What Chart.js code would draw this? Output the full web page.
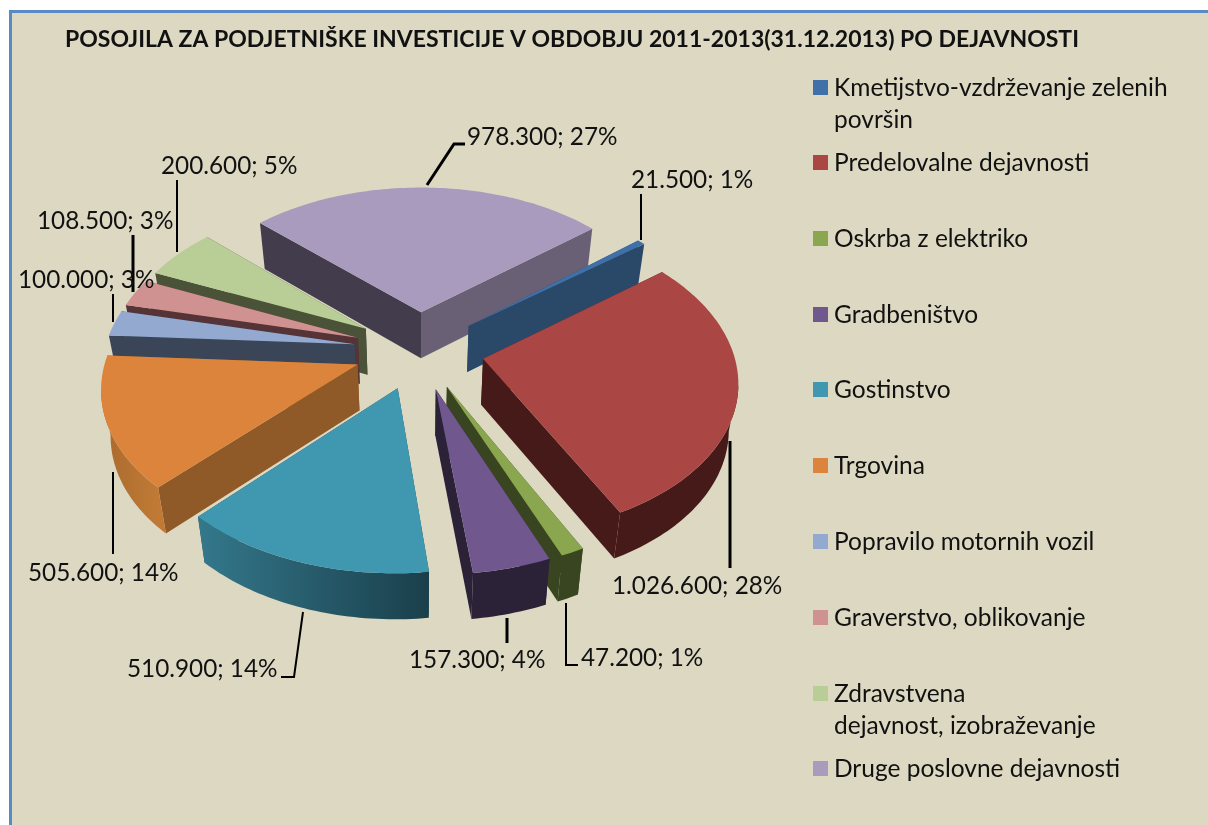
<!DOCTYPE html>
<html>
<head>
<meta charset="utf-8">
<script src="https://cdn.jsdelivr.net/npm/chart.js@4"></script>
<style>
html,body{margin:0;padding:0;background:#fff;overflow:hidden}
#frame{position:absolute;left:9px;top:10px;width:1199px;height:815px;box-sizing:border-box;background:#dcd8c2;border-left:3px solid #5a8ac6;border-top:3px solid #5a8ac6}
#myChart{position:absolute;left:0;top:0}
</style>
</head>
<body>
<div id="frame"></div>
<canvas id="myChart" width="1208" height="825"></canvas>
<script>
// data
let chartTitle = 'POSOJILA ZA PODJETNIŠKE INVESTICIJE V OBDOBJU 2011-2013(31.12.2013) PO DEJAVNOSTI'
let categories = ['Kmetijstvo-vzdrževanje zelenih površin','Predelovalne dejavnosti','Oskrba z elektriko','Gradbeništvo','Gostinstvo','Trgovina','Popravilo motornih vozil','Graverstvo, oblikovanje','Zdravstvena dejavnost, izobraževanje','Druge poslovne dejavnosti'];
let values = [21500,1026600,47200,157300,510900,505600,100000,108500,200600,978300];
let legendLines = [['Kmetijstvo-vzdrževanje zelenih','površin'],['Predelovalne dejavnosti'],['Oskrba z elektriko'],['Gradbeništvo'],['Gostinstvo'],['Trgovina'],['Popravilo motornih vozil'],['Graverstvo, oblikovanje'],['Zdravstvena','dejavnost, izobraževanje'],['Druge poslovne dejavnosti']];

// colours
let topColors = ['#4070a8','#aa4644','#8aa64e','#70588f','#4098b0','#dd843c','#93a9cf','#d09291','#b9cd96','#a99bbd'];
let startWall = ['#2a4868','#471a1a','#384520','#2c2238','#1f4a58','#8f5a28','#3a4558','#553336','#4a5238','#423c4c'];
let endWall = ['#2a4868','#471a1a','#384520','#2c2238','#1f4a58','#8f5a28','#3a4558','#553336','#4a5238','#6a6075'];
let rimLeft = ['#2a4868','#471a1a','#384520','#2c2238','#34788c','#a96a2e','#3a4558','#553336','#4a5238','#6a6075'];
let rimRight = ['#2a4868','#471a1a','#384520','#2c2238','#1a3f4a','#c07a35','#3a4558','#553336','#4a5238','#6a6075'];

// perspective of the pie plane
let view = {cx:419, cy:350, sx:250, sy:150, persp:0.13, depth:46, shrink:0.97};

// label text position [x, y] and leader line points
let labelPos = [[631,180],[612,586],[581,658],[409,660],[127,669],[28,573],[18,280],[37,221],[161,166],[467,137]];
let leaders = [
    {w:2, pts:[[641,194],[641,240]]},
    {w:3, pts:[[730,441],[730,568]]},
    {w:2, pts:[[566,603],[566,665],[578,665]]},
    {w:3, pts:[[507,618],[507,643]]},
    {w:2, pts:[[303,612],[294,677],[281,677]]},
    {w:2, pts:[[113,472],[113,554]]},
    {w:2, pts:[[113,294],[113,322]]},
    {w:3, pts:[[133,235],[133,292]]},
    {w:2, pts:[[177,180],[177,252]]},
    {w:3, pts:[[427,185],[454,144],[465,144]]}
];
let legendY = [87,162,238,314,389,465,541,617,693,768];

let fontName = 'Lato, "Noto Sans", sans-serif';

function project(u, v) {
    let p = 1 / (1 - view.persp * v);
    return [view.cx + view.sx * u * p, view.cy + view.sy * v * p];
}
function lower(pt) {
    return [view.cx + (pt[0] - view.cx) * view.shrink, pt[1] + view.depth];
}
function poly(ctx, pts, color) {
    ctx.beginPath();
    pts.forEach((p, i) => i ? ctx.lineTo(p[0], p[1]) : ctx.moveTo(p[0], p[1]));
    ctx.closePath();
    ctx.fillStyle = color;
    ctx.fill();
}

// draws the exploded slices from the library's arc elements, tilted and with height
let pie3d = {
    id: 'pie3d',
    beforeDatasetsDraw(chart) {
        let ctx = chart.ctx;
        let slices = chart.getDatasetMeta(0).data.map((arc, i) => {
            let R = arc.outerRadius;
            let mid = (arc.startAngle + arc.endAngle) / 2;
            let e = arc.options.offset / R;
            let ou = Math.cos(mid) * e, ov = Math.sin(mid) * e;
            let steps = Math.max(2, Math.ceil((arc.endAngle - arc.startAngle) / 0.02));
            let rim = [];
            for (let s = 0; s <= steps; s++) {
                let a = arc.startAngle + (arc.endAngle - arc.startAngle) * s / steps;
                rim.push(project(ou + Math.cos(a), ov + Math.sin(a)));
            }
            return {i, mid: Math.sin(mid), apex: project(ou, ov), rim};
        });
        slices.sort((a, b) => a.mid - b.mid);
        ctx.save();
        slices.forEach(s => {
            let first = s.rim[0], last = s.rim[s.rim.length - 1];
            let walls = [
                {y: first[1], pts: [s.apex, first, lower(first), lower(s.apex)], color: startWall[s.i]},
                {y: last[1], pts: [s.apex, last, lower(last), lower(s.apex)], color: endWall[s.i]}
            ];
            walls.sort((a, b) => a.y - b.y);
            walls.forEach(w => poly(ctx, w.pts, w.color));

            // outer wall, only the part turned to the viewer
            let front = s.rim.filter((p, k) => (k < s.rim.length - 1 && s.rim[k + 1][0] < p[0]) || (k > 0 && p[0] < s.rim[k - 1][0]));
            if (front.length > 1) {
                let bottom = front.map(lower).reverse();
                let xs = front.map(p => p[0]);
                let grad = ctx.createLinearGradient(Math.min(...xs), 0, Math.max(...xs), 0);
                grad.addColorStop(0, rimLeft[s.i]);
                grad.addColorStop(1, rimRight[s.i]);
                poly(ctx, front.concat(bottom), grad);
            }
            poly(ctx, [s.apex].concat(s.rim), topColors[s.i]);
        });
        ctx.restore();
        return false;
    }
};

// data labels, leader lines and the legend on the right
let annotations = {
    id: 'annotations',
    afterDraw(chart) {
        let ctx = chart.ctx;
        let total = values.reduce((a, b) => a + b, 0);
        ctx.save();
        ctx.fillStyle = '#111';
        ctx.strokeStyle = '#000';
        ctx.textBaseline = 'middle';
        ctx.textAlign = 'left';
        ctx.font = `24.3px ${fontName}`;
        leaders.forEach(l => {
            ctx.lineWidth = l.w;
            ctx.beginPath();
            l.pts.forEach((p, i) => i ? ctx.lineTo(p[0], p[1]) : ctx.moveTo(p[0], p[1]));
            ctx.stroke();
        });
        values.forEach((v, i) => {
            let txt = String(v).replace(/\B(?=(\d{3})+$)/g, '.') + '; ' + Math.round(v / total * 100) + '%';
            ctx.fillText(txt, labelPos[i][0], labelPos[i][1]);
        });
        ctx.font = `24.5px ${fontName}`;
        legendLines.forEach((lines, i) => {
            ctx.fillStyle = topColors[i];
            ctx.fillRect(813, legendY[i] - 7, 15, 15);
            ctx.fillStyle = '#111';
            lines.forEach((t, n) => ctx.fillText(t, 834, legendY[i] + 1 + n * 32));
        });
        ctx.restore();
    }
};

let myChart = new Chart(document.getElementById('myChart').getContext('2d'), {
    type: 'pie',
    data: {
        labels: categories,
        datasets: [{
            data: values,
            backgroundColor: topColors,
            borderWidth: 0,
            offset: 88
        }]
    },
    options: {
        responsive: false,
        animation: false,
        rotation: 50,
        layout: {padding: {left: 65, top: 26}},
        plugins: {
            legend: {display: false},
            tooltip: {enabled: false},
            title: {
                display: true,
                text: chartTitle,
                align: 'start',
                color: '#111',
                font: {family: fontName, size: 23, weight: 'bold'},
                padding: {top: 0, bottom: 8}
            }
        }
    },
    plugins: [pie3d, annotations]
});
</script>
</body>
</html>
